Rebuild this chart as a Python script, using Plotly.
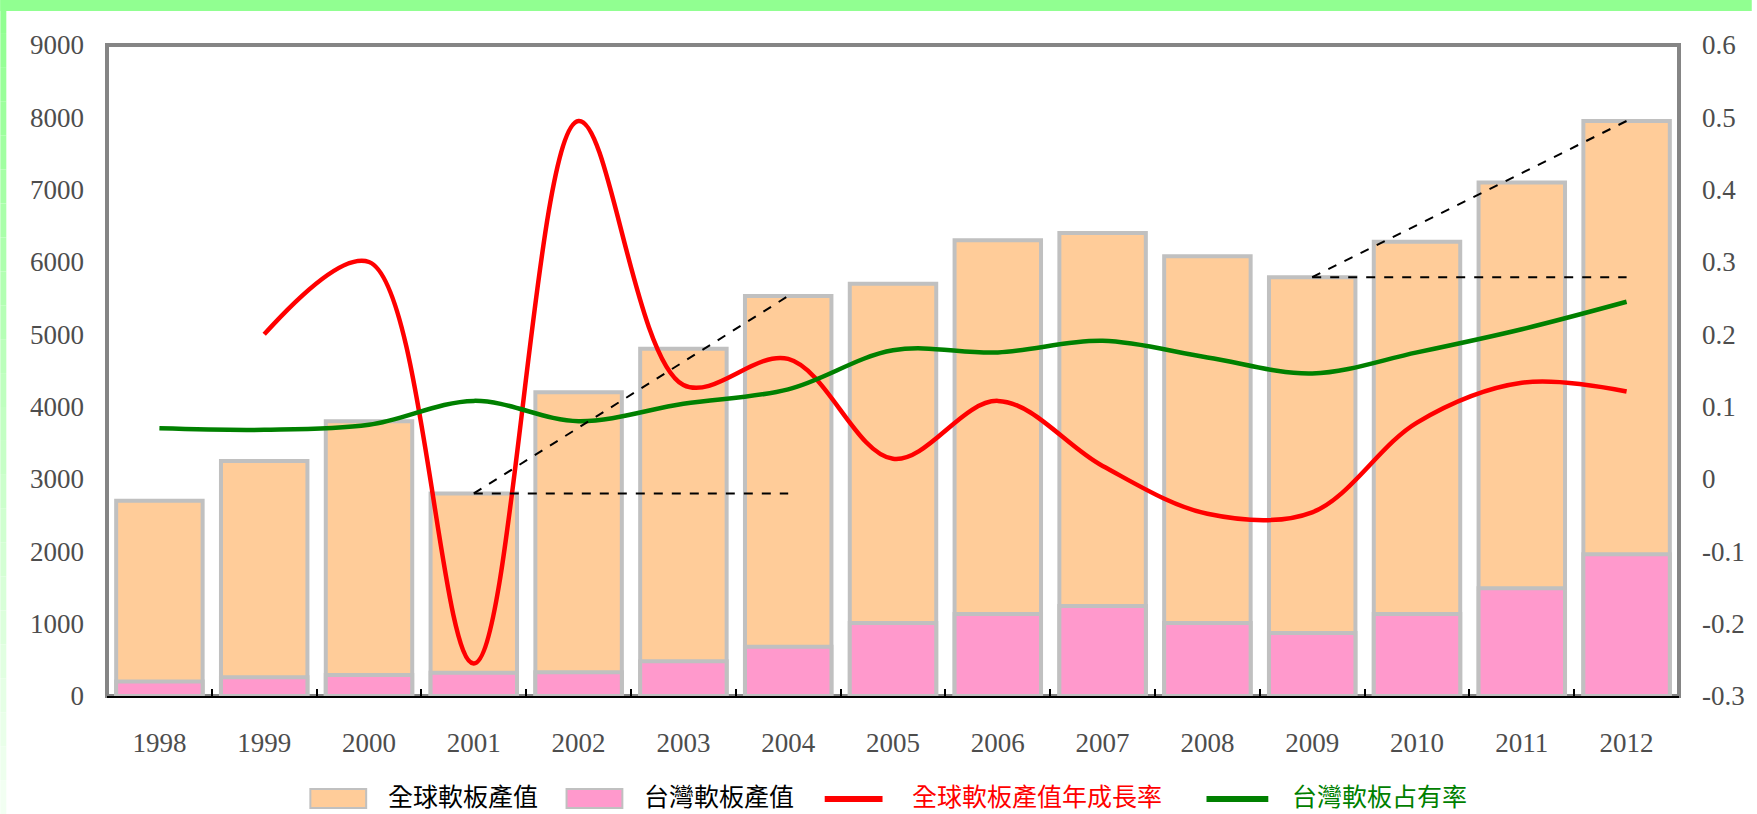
import plotly.graph_objects as go

# ---- data -------------------------------------------------------------
years = ["1998", "1999", "2000", "2001", "2002", "2003", "2004", "2005",
         "2006", "2007", "2008", "2009", "2010", "2011", "2012"]
global_output = [2700, 3250, 3800, 2800, 4200, 4800, 5530, 5700,
                 6300, 6400, 6080, 5790, 6280, 7100, 7950]
taiwan_output = [200, 260, 290, 320, 330, 480, 680, 1010,
                 1135, 1245, 1010, 870, 1135, 1490, 1960]
global_growth = [None, 0.20, 0.30, -0.255, 0.495, 0.13, 0.166, 0.028,
                 0.108, 0.018, -0.048, -0.046, 0.078, 0.133, 0.121]
taiwan_share = [0.070, 0.068, 0.075, 0.108, 0.080, 0.104, 0.124, 0.178,
                0.175, 0.191, 0.168, 0.146, 0.175, 0.207, 0.245]

left_ticks = [0, 1000, 2000, 3000, 4000, 5000, 6000, 7000, 8000, 9000]
left_labels = [str(v) for v in left_ticks]
right_ticks = [-0.3, -0.2, -0.1, 0, 0.1, 0.2, 0.3, 0.4, 0.5, 0.6]
right_labels = ["-0.3", "-0.2", "-0.1", "0", "0.1", "0.2", "0.3", "0.4", "0.5", "0.6"]

legend_names = ["全球軟板產值", "台灣軟板產值", "全球軟板產值年成長率", "台灣軟板占有率"]

# dashed guides: (start year, end year)
guides = [("2001", "2004"), ("2009", "2012")]

# ---- styling ----------------------------------------------------------
W, H = 1757, 814
L, R, T, B = 107, 73, 45, 118
ORANGE = "#FFCC99"
PINK = "#FF99CC"
EDGE = "#C0C0C0"
RED = "#FF0000"
GREEN = "#008000"
TICK_FONT = dict(family="Liberation Serif, Times New Roman, serif", size=27, color="#4D4D4D")
CJK = "Noto Sans CJK TC, Noto Sans CJK SC, sans-serif"

pw, ph = W - L - R, H - T - B


def px_x(x):
    return (x - L) / pw


def px_y(y):
    return (H - B - y) / ph


fig = go.Figure()
fig.add_trace(go.Bar(x=years, y=global_output, name=legend_names[0],
                     marker=dict(color=ORANGE, line=dict(color=EDGE, width=4))))
fig.add_trace(go.Bar(x=years, y=taiwan_output, name=legend_names[1],
                     marker=dict(color=PINK, line=dict(color=EDGE, width=4))))
fig.add_trace(go.Scatter(x=years, y=global_growth, name=legend_names[2], yaxis="y2",
                         mode="lines", line=dict(color=RED, width=4.5, shape="spline", smoothing=1.0)))
fig.add_trace(go.Scatter(x=years, y=taiwan_share, name=legend_names[3], yaxis="y2",
                         mode="lines", line=dict(color=GREEN, width=4.5, shape="spline", smoothing=1.0)))

shapes = []
# plot-area frame
shapes.append(dict(type="rect", xref="paper", yref="paper", x0=0, y0=0, x1=1, y1=1,
                   line=dict(color="#858585", width=4), layer="below"))
# dashed growth guides anchored on the bar values
for a, b in guides:
    ia, ib = years.index(a), years.index(b)
    ya, yb = global_output[ia], global_output[ib]
    shapes.append(dict(type="line", xref="x", yref="y", x0=ia, y0=ya, x1=ib, y1=ya,
                       line=dict(color="black", width=2, dash="dash"), layer="above"))
    shapes.append(dict(type="line", xref="x", yref="y", x0=ia, y0=ya, x1=ib, y1=yb,
                       line=dict(color="black", width=2, dash="dash"), layer="above"))

# page border: green band on top, fading strip on the left
shapes.append(dict(type="rect", xref="paper", yref="paper", x0=px_x(0), x1=px_x(W),
                   y0=px_y(11), y1=px_y(0), line=dict(width=0), fillcolor="#91FF91"))
steps = 24
for i in range(steps):
    y0p, y1p = H * i / steps, H * (i + 1) / steps
    t = i / (steps - 1)
    g = (int(145 + (242 - 145) * t), 255, int(145 + (242 - 145) * t))
    shapes.append(dict(type="rect", xref="paper", yref="paper", x0=px_x(0), x1=px_x(6),
                       y0=px_y(y1p), y1=px_y(y0p), line=dict(width=0),
                       fillcolor="rgb(%d,%d,%d)" % g))

# custom legend row
annotations = []
legend_y = 795
swatches = [(311, 367, ORANGE, "bar", 387, "black"),
            (568, 624, PINK, "bar", 644, "black"),
            (827, 885, RED, "line", 913, RED),
            (1210, 1272, GREEN, "line", 1294, GREEN)]
for (x0, x1, col, kind, tx, tcol), name in zip(swatches, legend_names):
    if kind == "bar":
        shapes.append(dict(type="rect", xref="paper", yref="paper",
                           x0=px_x(x0), x1=px_x(x1), y0=px_y(legend_y + 13), y1=px_y(legend_y - 6),
                           line=dict(color=EDGE, width=2), fillcolor=col))
    else:
        shapes.append(dict(type="line", xref="paper", yref="paper",
                           x0=px_x(x0), x1=px_x(x1), y0=px_y(legend_y + 4), y1=px_y(legend_y + 4),
                           line=dict(color=col, width=6)))
    annotations.append(dict(text=name, xref="paper", yref="paper", x=px_x(tx), y=px_y(legend_y),
                            xanchor="left", yanchor="middle", showarrow=False,
                            font=dict(family=CJK, size=25, color=tcol)))

fig.update_layout(
    width=W, height=H,
    margin=dict(l=L, r=R, t=T, b=B, pad=0),
    paper_bgcolor="white", plot_bgcolor="white",
    barmode="overlay", bargap=0.175,
    showlegend=False,
    shapes=shapes, annotations=annotations,
    xaxis=dict(type="category", showgrid=False, showline=True, linecolor="black", linewidth=2,
               ticks="inside", tickson="boundaries", ticklen=7, tickwidth=2, tickcolor="black",
               tickfont=TICK_FONT, ticklabelstandoff=22, zeroline=False),
    yaxis=dict(range=[0, 9000], tickvals=left_ticks, ticktext=left_labels, showgrid=False,
               zeroline=False, showline=False, ticks="", tickfont=TICK_FONT, ticklabelstandoff=22),
    yaxis2=dict(range=[-0.3, 0.6], tickvals=right_ticks, ticktext=right_labels, overlaying="y",
                side="right", showgrid=False, zeroline=False, showline=False, ticks="",
                tickfont=TICK_FONT, ticklabelstandoff=22),
)

fig.write_html("out.html")
